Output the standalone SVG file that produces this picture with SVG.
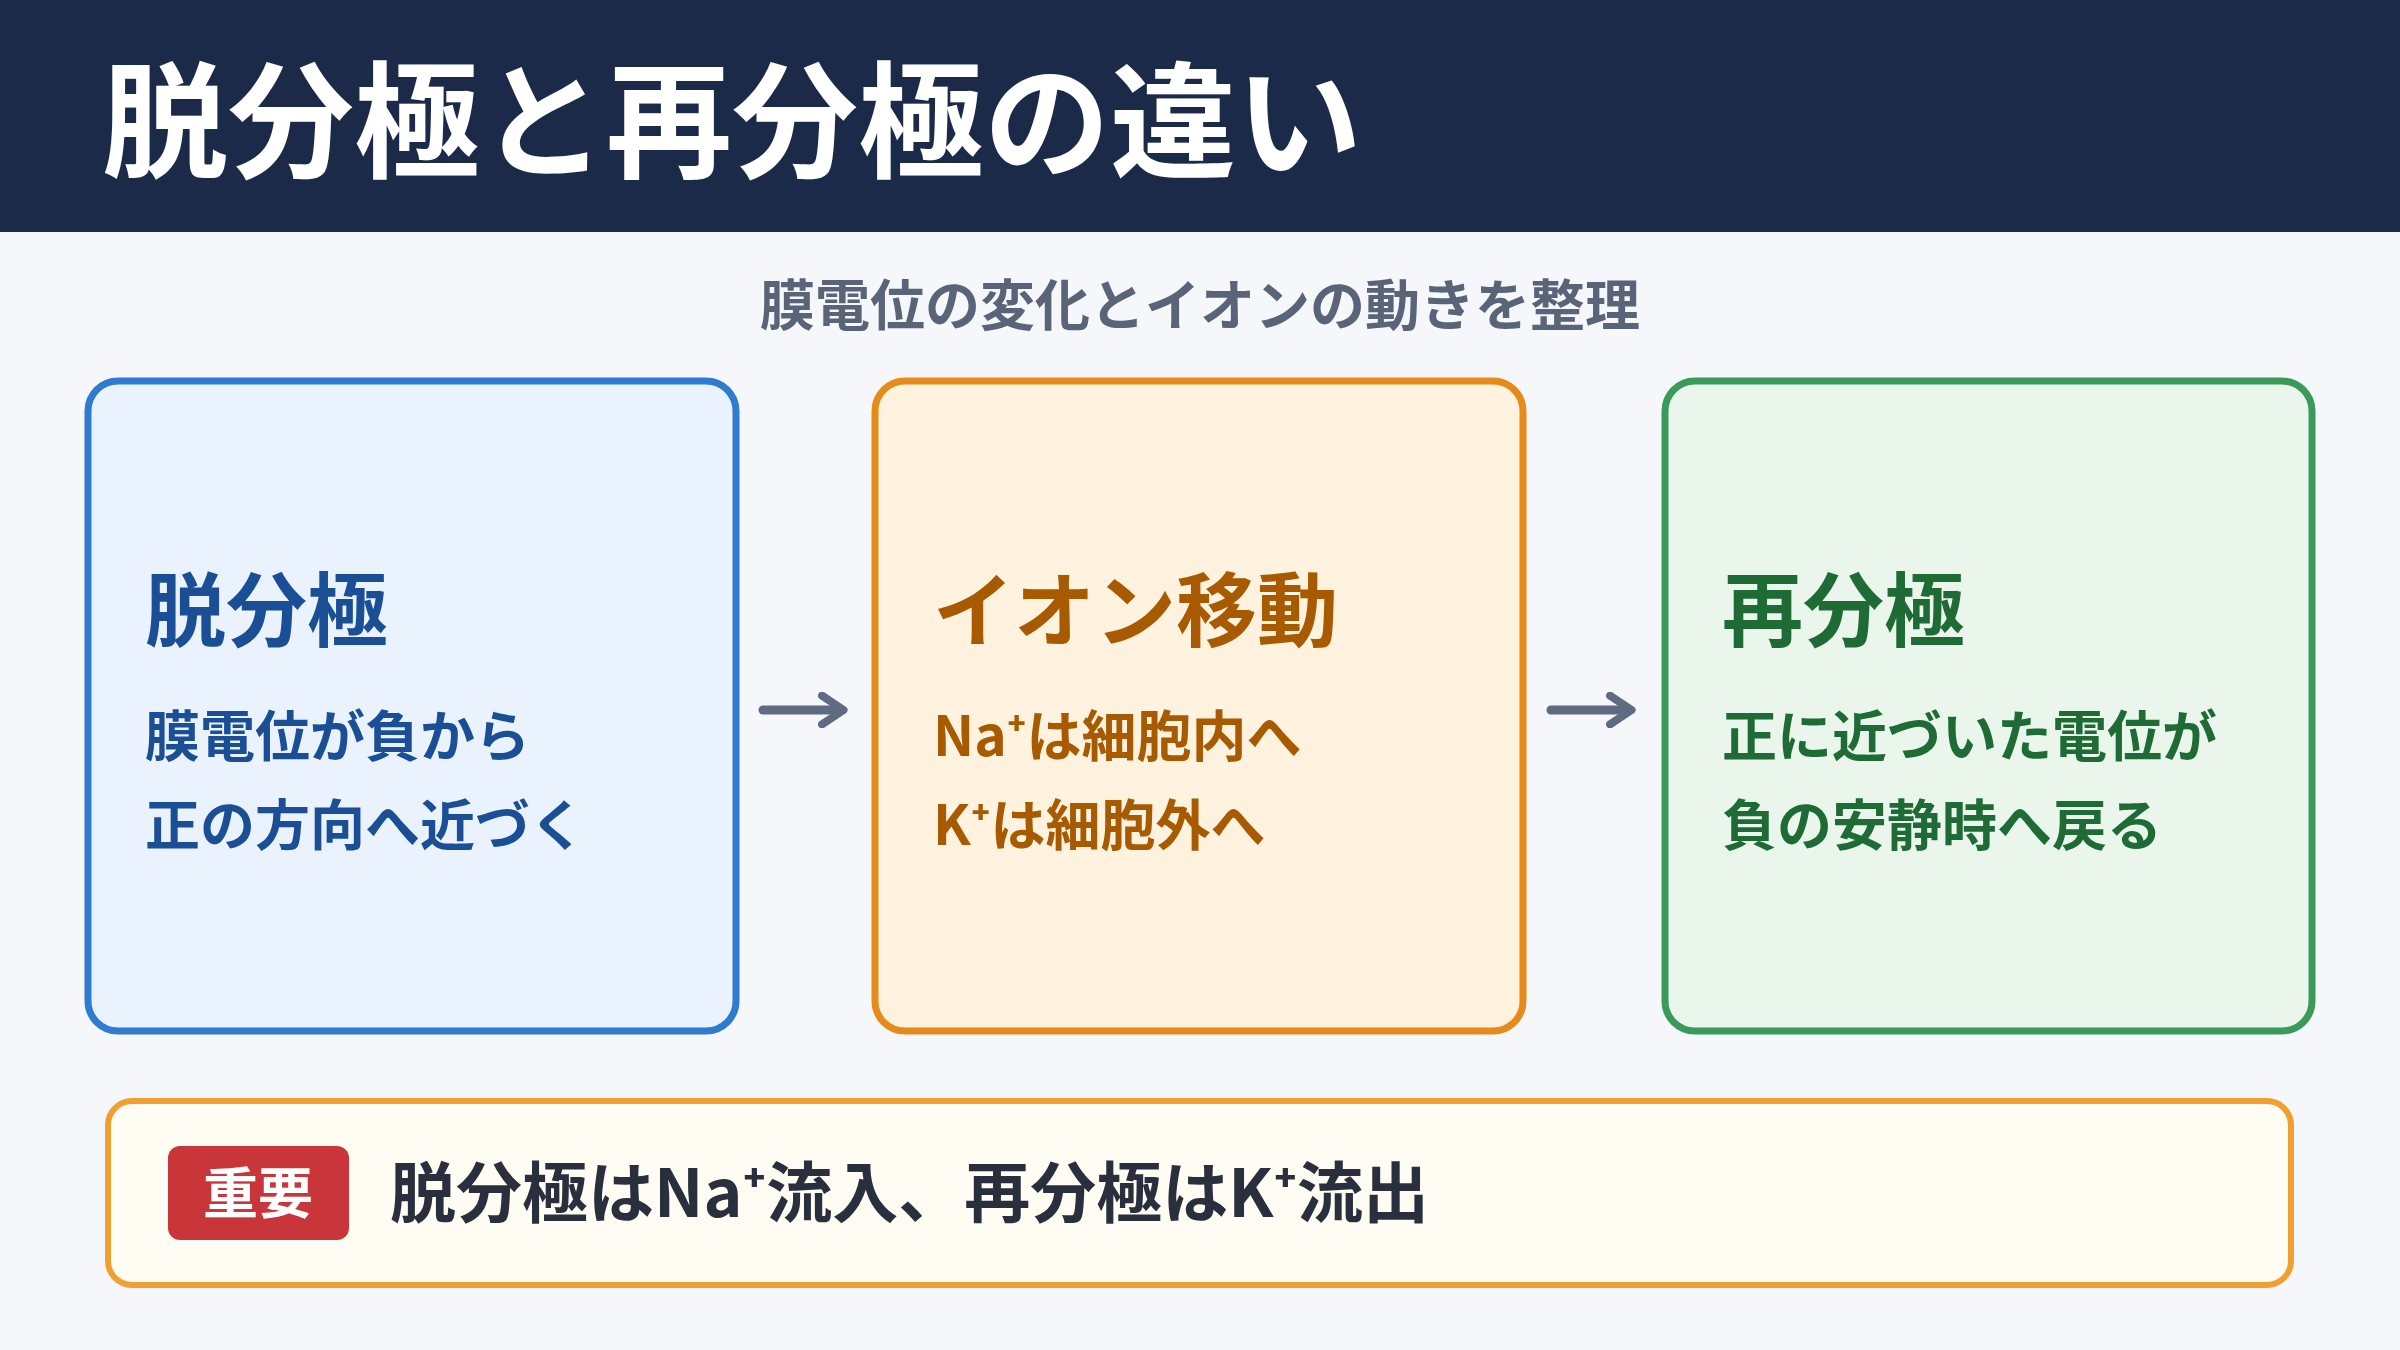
<svg xmlns="http://www.w3.org/2000/svg" width="2400" height="1350" viewBox="0 0 2400 1350">
<defs>
<style>
text{font-family:"Noto Sans CJK JP","Noto Sans",sans-serif;font-weight:700}
.h{font-size:81px}.b{font-size:55px}
.box{stroke-width:7}
</style>
<marker id="ah" viewBox="0 0 10 10" refX="6" refY="5" markerWidth="4" markerHeight="4" orient="auto"><path d="M1,1 L7,5 L1,9" fill="none" stroke="#5f6b82" stroke-width="2.2" stroke-linecap="round" stroke-linejoin="round"/></marker>
</defs>
<rect width="2400" height="1350" fill="#f5f7fb"/>
<g id="header"><rect width="2400" height="232" fill="#1c2a4a"/>
<text x="102" y="168" font-size="126" fill="#fff">脱分極と再分極の違い</text></g>
<text x="1200" y="325" font-size="55" fill="#5a6478" text-anchor="middle">膜電位の変化とイオンの動きを整理</text>
<g id="box1"><rect class="box" x="88" y="381" width="648" height="650" rx="30" fill="#eaf2fd" stroke="#2f7bd0"/>
<text class="h" x="145" y="640" fill="#1a4f96">脱分極</text>
<text class="b" x="145" y="756" fill="#1a4f96">膜電位が負から</text>
<text class="b" x="145" y="845" fill="#1a4f96">正の方向へ近づく</text></g>
<g id="box2"><rect class="box" x="875" y="381" width="648" height="650" rx="30" fill="#fff3e0" stroke="#e68a1a"/>
<text class="h" x="933" y="640" fill="#a85a00">イオン移動</text>
<text class="b" x="933" y="756" fill="#a85a00">Na⁺は細胞内へ</text>
<text class="b" x="933" y="845" fill="#a85a00">K⁺は細胞外へ</text></g>
<g id="box3"><rect class="box" x="1665" y="381" width="647" height="650" rx="30" fill="#eaf6ec" stroke="#3a9a5a"/>
<text class="h" x="1722" y="640" fill="#1e6b35">再分極</text>
<text class="b" x="1722" y="756" fill="#1e6b35">正に近づいた電位が</text>
<text class="b" x="1722" y="845" fill="#1e6b35">負の安静時へ戻る</text></g>
<g id="connectors" stroke="#5f6b82" stroke-width="9" stroke-linecap="round" marker-end="url(#ah)">
<line x1="763" y1="710" x2="840" y2="710"/>
<line x1="1551" y1="710" x2="1628" y2="710"/>
</g>
<g id="note"><rect x="108" y="1101" width="2183" height="184" rx="24" fill="#fffcf3" stroke="#f0a030" stroke-width="6"/>
<rect x="168" y="1146" width="181" height="94" rx="12" fill="#c9363a"/>
<text x="258" y="1213" font-size="55" fill="#fff" text-anchor="middle">重要</text>
<text x="390" y="1217" font-size="66" fill="#2a2f3d">脱分極はNa⁺流入、再分極はK⁺流出</text></g>
</svg>
